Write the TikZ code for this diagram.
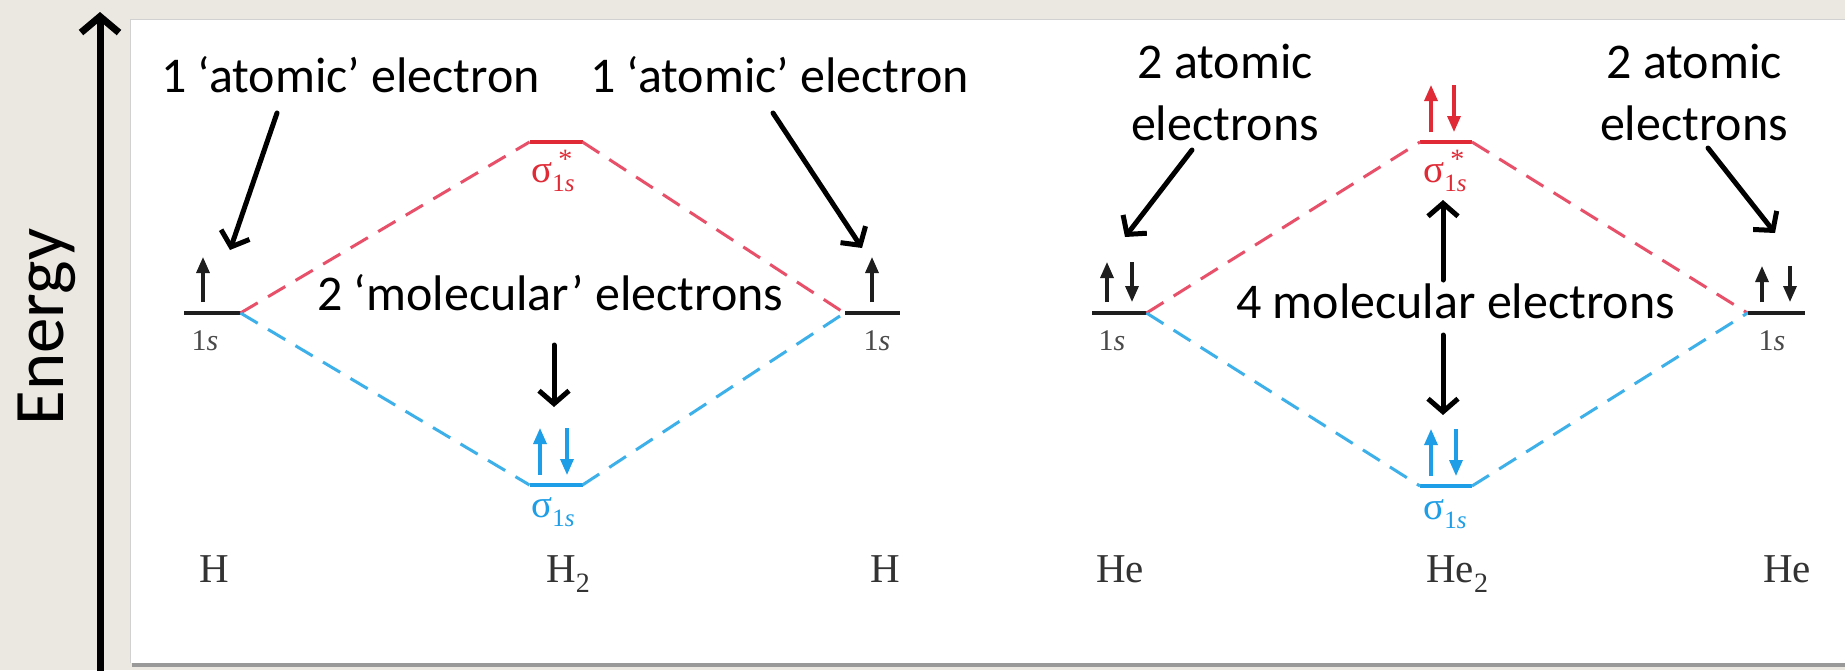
\documentclass[tikz,border=0pt]{standalone}
\usepackage{fontspec}
\setmainfont{Carlito}
\newfontfamily\tms{Liberation Serif}
\usetikzlibrary{arrows.meta}
\definecolor{bg}{HTML}{EBE8E2}
\definecolor{lvred}{HTML}{E02A36}
\definecolor{dshred}{HTML}{E8506A}
\definecolor{lvblue}{HTML}{1E9EE6}
\definecolor{dshblue}{HTML}{3DB0EA}
\definecolor{lvblack}{HTML}{1E1E1E}
\definecolor{lblgray}{HTML}{4A4A4A}
\newcommand\subls{\raisebox{-9pt}{\fontsize{25}{25}\selectfont 1\textit{s}}}
\newcommand\sigb{{\tms\fontsize{39}{39}\selectfont σ\subls}}
\newcommand\sigs{{\tms\fontsize{39}{39}\selectfont σ\rlap{\hspace{6pt}\raisebox{14pt}{\fontsize{28}{28}\selectfont *}}\subls}}
\newcommand\ones{{\tms\fontsize{30}{30}\selectfont 1\textit{s}}}
\newcommand\molsub[1]{\raisebox{-10pt}{\fontsize{28}{28}\selectfont #1}}
\begin{document}
\begin{tikzpicture}[x=1pt,y=-1pt,
  lvl/.style={fill=#1, minimum width=55pt, minimum height=4pt, inner sep=0pt, outer sep=0pt},
  dred/.style={draw=dshred, line width=3pt, dash pattern=on 20pt off 12pt},
  dblue/.style={draw=dshblue, line width=3pt, dash pattern=on 20pt off 12pt},
  elec/.style={line width=3.2pt, -{Triangle[length=16pt,width=13pt]}},
  ann/.style={font=\fontsize{50}{62}\selectfont, inner sep=0pt, text=black},
  annarrow/.style={line width=5pt, line cap=round, line join=round, -{Straight Barb[length=13pt,width=30pt]}},
  orb/.style={inner sep=0pt, anchor=base, text=lblgray},
  mol/.style={inner sep=0pt, anchor=base west, text=black!80, font=\tms\fontsize{41}{41}\selectfont}
]
\useasboundingbox (0,0) rectangle (1845,670);
% background and panel
\fill[bg] (0,0) rectangle (1845,670);
\fill[black!40] (132,22) rectangle (1845,667);
\fill[white] (130,19) rectangle (1845,663);
\draw[black!18, line width=1pt] (130,663) -- (130,19) -- (1845,19);

% energy axis
\coordinate (axlo) at (100,675);
\coordinate (axhi) at (100,12);
\draw[line width=7pt, line cap=round, line join=round, -{Straight Barb[length=16pt,width=38pt]}] (axlo) -- (axhi);
\node[rotate=90, font=\fontsize{71}{72}\selectfont, inner sep=0pt, anchor=base] (energy) at (63,327) {Energy};

% levels
\node[lvl=lvblack, minimum width=57pt] (hL) at (212,313) {};
\node[lvl=lvred, minimum width=53pt] (h2a) at (556,142) {};
\node[lvl=lvblue, minimum width=53pt] (h2b) at (556,485) {};
\node[lvl=lvblack] (hR) at (872,313) {};
\node[lvl=lvblack] (heL) at (1119,313) {};
\node[lvl=lvred, minimum width=52pt] (he2a) at (1446,142) {};
\node[lvl=lvblue, minimum width=52pt] (he2b) at (1446,486) {};
\node[lvl=lvblack, minimum width=57pt] (heR) at (1776,313) {};

% dashed correlation lines
\draw[dred] (hL.east) -- (h2a.west);
\draw[dred] (h2a.east) -- (hR.west);
\draw[dblue] (hL.east) -- (h2b.west);
\draw[dblue] (h2b.east) -- (hR.west);
\draw[dred] (heL.east) -- (he2a.west);
\draw[dred] (he2a.east) -- (heR.west);
\draw[dblue] (heL.east) -- (he2b.west);
\draw[dblue] (he2b.east) -- (heR.west);

% electrons
\draw[elec, lvblack] (203,302) -- (203,257);
\draw[elec, lvblack] (872,302) -- (872,257);
\draw[elec, lvblack] (1107,302) -- (1107,262);
\draw[elec, lvblack] (1132,262) -- (1132,302);
\draw[elec, lvblack] (1762,302) -- (1762,266);
\draw[elec, lvblack] (1790,266) -- (1790,302);
\draw[elec, lvblue] (540,475) -- (540,428);
\draw[elec, lvblue] (567,428) -- (567,475);
\draw[elec, lvblue] (1431,476) -- (1431,429);
\draw[elec, lvblue] (1456,429) -- (1456,476);
\draw[elec, lvred] (1431,132) -- (1431,85);
\draw[elec, lvred] (1454,85) -- (1454,132);

% orbital labels
\node[orb] (lhL) at (205,350) {\ones};
\node[orb] (lhR) at (877,350) {\ones};
\node[orb] (lheL) at (1112,350) {\ones};
\node[orb] (lheR) at (1772,350) {\ones};
\node[orb, text=lvred] (lh2a) at (553,182) {\sigs};
\node[orb, text=lvblue] (lh2b) at (553,517) {\sigb};
\node[orb, text=lvred] (lhe2a) at (1445,182) {\sigs};
\node[orb, text=lvblue] (lhe2b) at (1445,519) {\sigb};

% molecule labels
\node[mol] (mH1) at (199,582) {H};
\node[mol] (mH2) at (546,582) {H\molsub{2}};
\node[mol] (mH3) at (870,582) {H};
\node[mol] (mHe1) at (1096,582) {He};
\node[mol] (mHe2) at (1426,582) {He\molsub{2}};
\node[mol] (mHe3) at (1763,582) {He};

% annotations
\node[ann, anchor=base west] (t1) at (161,92) {1 ‘atomic’ electron};
\node[ann, anchor=base west] (t2) at (590,92) {1 ‘atomic’ electron};
\node[ann, anchor=base west] (t3) at (317,310) {2 ‘molecular’ electrons};
\node[ann, anchor=base, align=center] (t4) at (1225,140) {2 atomic\\electrons};
\node[ann, anchor=base, align=center] (t5) at (1694,140) {2 atomic\\electrons};
\node[ann, anchor=base west] (t6) at (1236,318) {4 molecular electrons};

\coordinate (a1s) at (277,113); \coordinate (a1e) at (230,250);
\coordinate (a2s) at (773,113); \coordinate (a2e) at (862,248);
\coordinate (a3s) at (554,345); \coordinate (a3e) at (554,407);
\coordinate (a4s) at (1192,150); \coordinate (a4e) at (1125,237);
\coordinate (a5s) at (1708,148); \coordinate (a5e) at (1775,233);
\coordinate (a6s) at (1443,280); \coordinate (a6e) at (1443,200);
\coordinate (a7s) at (1443,335); \coordinate (a7e) at (1443,415);
\draw[annarrow] (a1s) -- (a1e);
\draw[annarrow] (a2s) -- (a2e);
\draw[annarrow] (a3s) -- (a3e);
\draw[annarrow] (a4s) -- (a4e);
\draw[annarrow] (a5s) -- (a5e);
\draw[annarrow] (a6s) -- (a6e);
\draw[annarrow] (a7s) -- (a7e);
\end{tikzpicture}
\end{document}
